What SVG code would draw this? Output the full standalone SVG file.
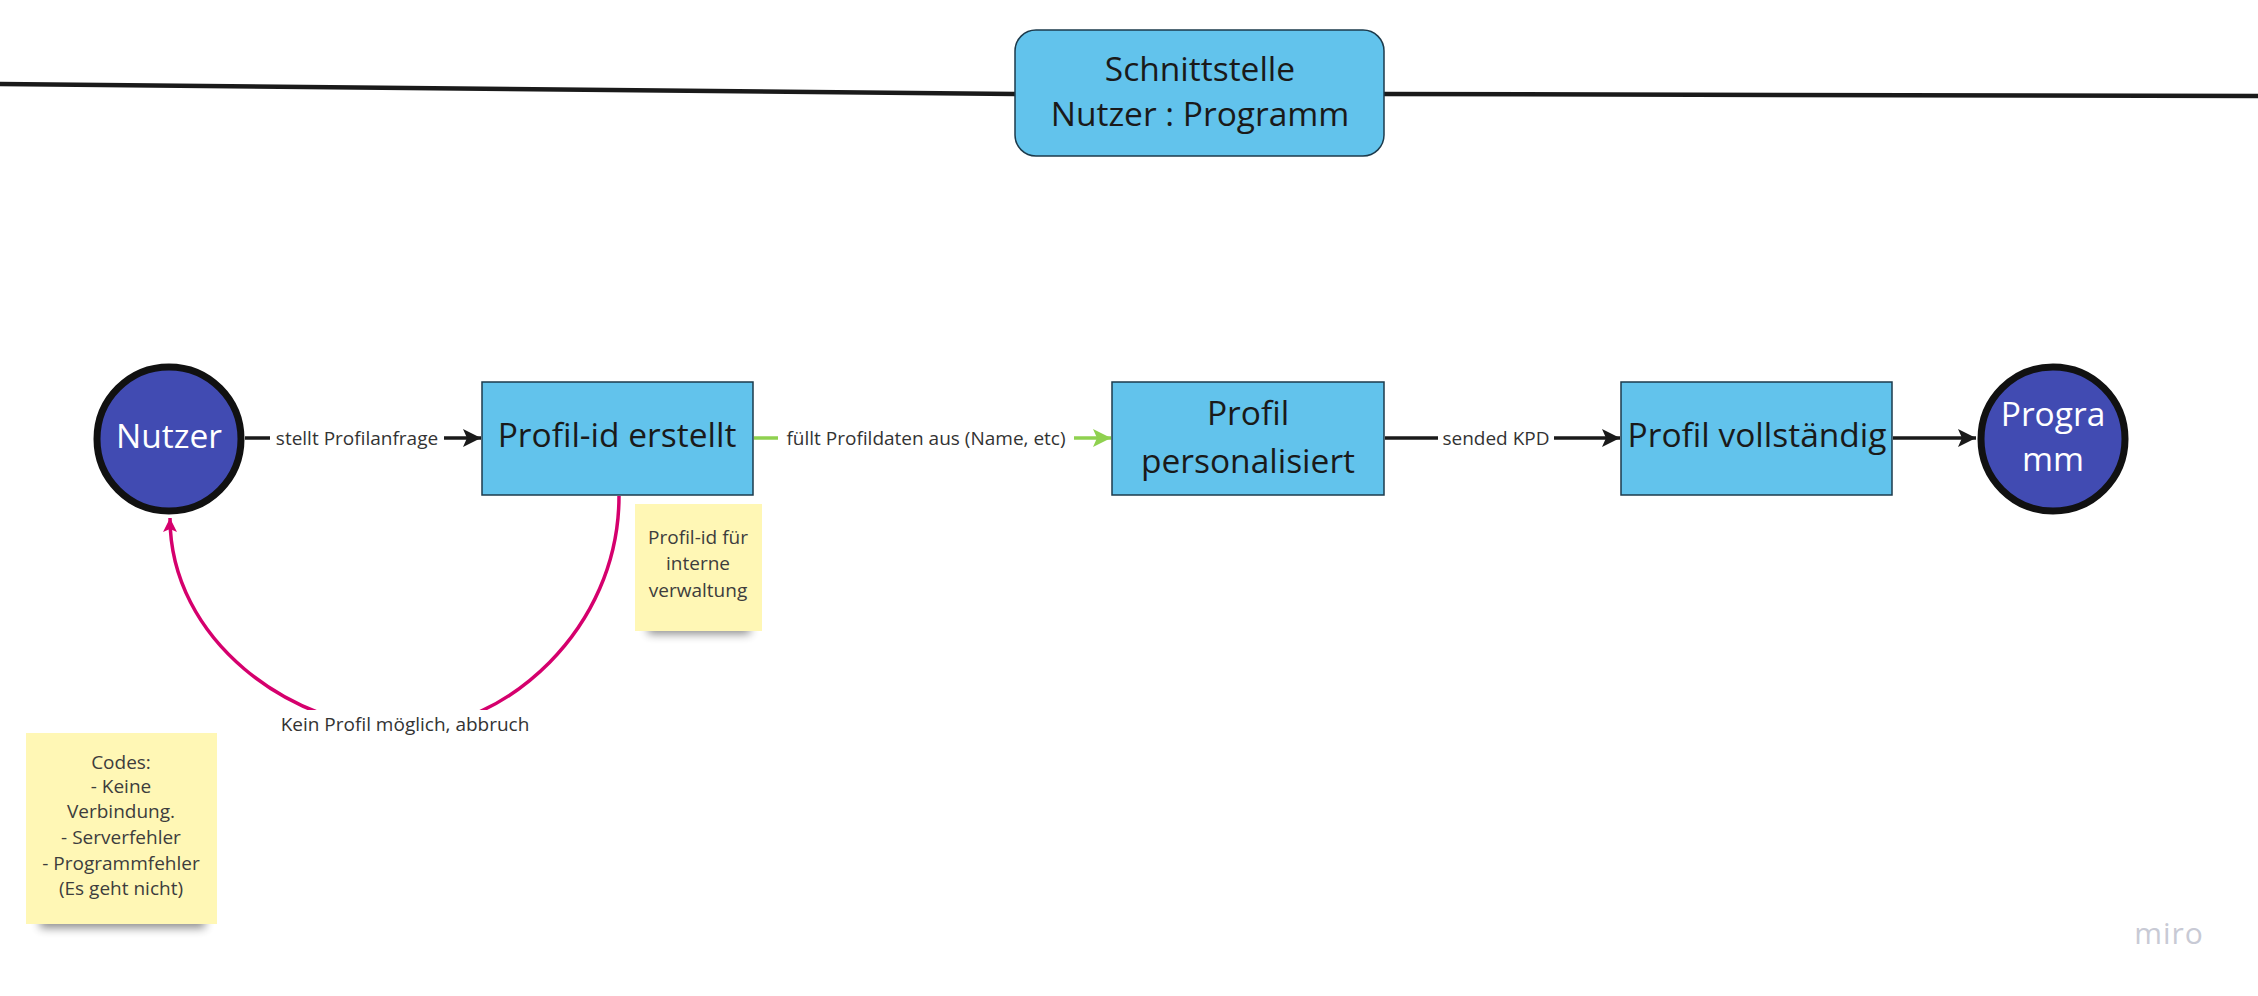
<svg xmlns="http://www.w3.org/2000/svg" width="2258" height="996" viewBox="0 0 2258 996">
<style>
.box{fill:#62c3ec;stroke:#1d3b4c;stroke-width:1.5}
.circ{fill:#414bb2;stroke:#111;stroke-width:7}
.bt{font-family:"Open Sans","Liberation Sans",sans-serif;font-size:33.5px;fill:#1a1a1a;text-anchor:middle;dominant-baseline:central}
.ct{font-family:"Open Sans","Liberation Sans",sans-serif;font-size:33.5px;fill:#fff;text-anchor:middle;dominant-baseline:central}
.lbl{font-family:"Open Sans","Liberation Sans",sans-serif;font-size:19px;fill:#333;text-anchor:middle;dominant-baseline:central}
.st{font-family:"Open Sans","Liberation Sans",sans-serif;font-size:19px;fill:#3d3d3d;text-anchor:middle;dominant-baseline:central}
.sticky{fill:#fff7b5}
.edge{fill:none;stroke-width:3.5}
</style>
<defs>
<marker id="ab" markerUnits="userSpaceOnUse" markerWidth="20" markerHeight="18" refX="18" refY="9" orient="auto"><path d="M0,0 L18,9 L0,18 L4,9 Z" fill="#1a1a1a"/></marker>
<marker id="ag" markerUnits="userSpaceOnUse" markerWidth="20" markerHeight="18" refX="18" refY="9" orient="auto"><path d="M0,0 L18,9 L0,18 L4,9 Z" fill="#8fd14f"/></marker>
<marker id="am" markerUnits="userSpaceOnUse" markerWidth="16" markerHeight="14" refX="14" refY="7" orient="auto"><path d="M0,0 L14,7 L0,14 L3,7 Z" fill="#d5006d"/></marker>
<filter id="sh" x="-20%" y="-100%" width="140%" height="300%"><feGaussianBlur stdDeviation="5"/></filter>
</defs>
<rect width="2258" height="996" fill="#fff"/>
<g id="boundary">
<path d="M0,84 L1015,94" stroke="#1a1a1a" stroke-width="4.5" fill="none"/>
<path d="M1384,94 L2258,96" stroke="#1a1a1a" stroke-width="4.5" fill="none"/>
</g>
<g id="schnittstelle">
<rect class="box" x="1015" y="30" width="369" height="126" rx="21" ry="21"/>
<text class="bt" x="1200" y="68">Schnittstelle</text>
<text class="bt" x="1200" y="113">Nutzer : Programm</text>
</g>
<g id="connectors">
<path class="edge" stroke="#1a1a1a" d="M245,438 L481,438" marker-end="url(#ab)"/>
<rect x="270" y="424" width="174" height="28" fill="#fff"/>
<text class="lbl" x="357" y="438">stellt Profilanfrage</text>
<path class="edge" stroke="#8fd14f" d="M754,438 L1111,438" marker-end="url(#ag)"/>
<rect x="778" y="424" width="296" height="28" fill="#fff"/>
<text class="lbl" x="926" y="438">füllt Profildaten aus (Name, etc)</text>
<path class="edge" stroke="#1a1a1a" d="M1385,438 L1620,438" marker-end="url(#ab)"/>
<rect x="1438" y="424" width="116" height="28" fill="#fff"/>
<text class="lbl" x="1496" y="438">sended KPD</text>
<path class="edge" stroke="#1a1a1a" d="M1893,438 L1976,438" marker-end="url(#ab)"/>
<path class="edge" stroke="#d5006d" stroke-width="3" d="M619,496 C619,630 505,728 405,730 C290,728 170,640 170,518" marker-end="url(#am)"/>
<rect x="274" y="710" width="262" height="30" fill="#fff"/>
<text class="lbl" x="405" y="724">Kein Profil möglich, abbruch</text>
</g>
<g id="nutzer">
<circle class="circ" cx="169" cy="439" r="72"/>
<text class="ct" x="169" y="435">Nutzer</text>
</g>
<g id="profil-id">
<rect class="box" x="482" y="382" width="271" height="113"/>
<text class="bt" x="617" y="434">Profil-id erstellt</text>
</g>
<g id="profil-personalisiert">
<rect class="box" x="1112" y="382" width="272" height="113"/>
<text class="bt" x="1248" y="412">Profil</text>
<text class="bt" x="1248" y="460">personalisiert</text>
</g>
<g id="profil-vollstaendig">
<rect class="box" x="1621" y="382" width="271" height="113"/>
<text class="bt" x="1757" y="434">Profil vollständig</text>
</g>
<g id="programm">
<circle class="circ" cx="2053" cy="439" r="72"/>
<text class="ct" x="2053" y="413">Progra</text>
<text class="ct" x="2053" y="458">mm</text>
</g>
<g id="note-profil-id">
<rect x="648" y="620" width="102" height="14" fill="#000" opacity="0.45" filter="url(#sh)"/>
<rect class="sticky" x="635" y="504" width="127" height="127"/>
<text class="st" x="698" y="537">Profil-id für</text>
<text class="st" x="698" y="563">interne</text>
<text class="st" x="698" y="590">verwaltung</text>
</g>
<g id="note-codes">
<rect x="40" y="912" width="165" height="16" fill="#000" opacity="0.45" filter="url(#sh)"/>
<rect class="sticky" x="26" y="733" width="191" height="191"/>
<text class="st" x="121" y="762">Codes:</text>
<text class="st" x="121" y="786">- Keine</text>
<text class="st" x="121" y="811">Verbindung.</text>
<text class="st" x="121" y="837">- Serverfehler</text>
<text class="st" x="121" y="863">- Programmfehler</text>
<text class="st" x="121" y="888">(Es geht nicht)</text>
</g>
<text x="2169" y="932" font-family="'Open Sans','Liberation Sans',sans-serif" font-size="30" fill="#c8cad5" text-anchor="middle" dominant-baseline="central" letter-spacing="1">miro</text>
</svg>
